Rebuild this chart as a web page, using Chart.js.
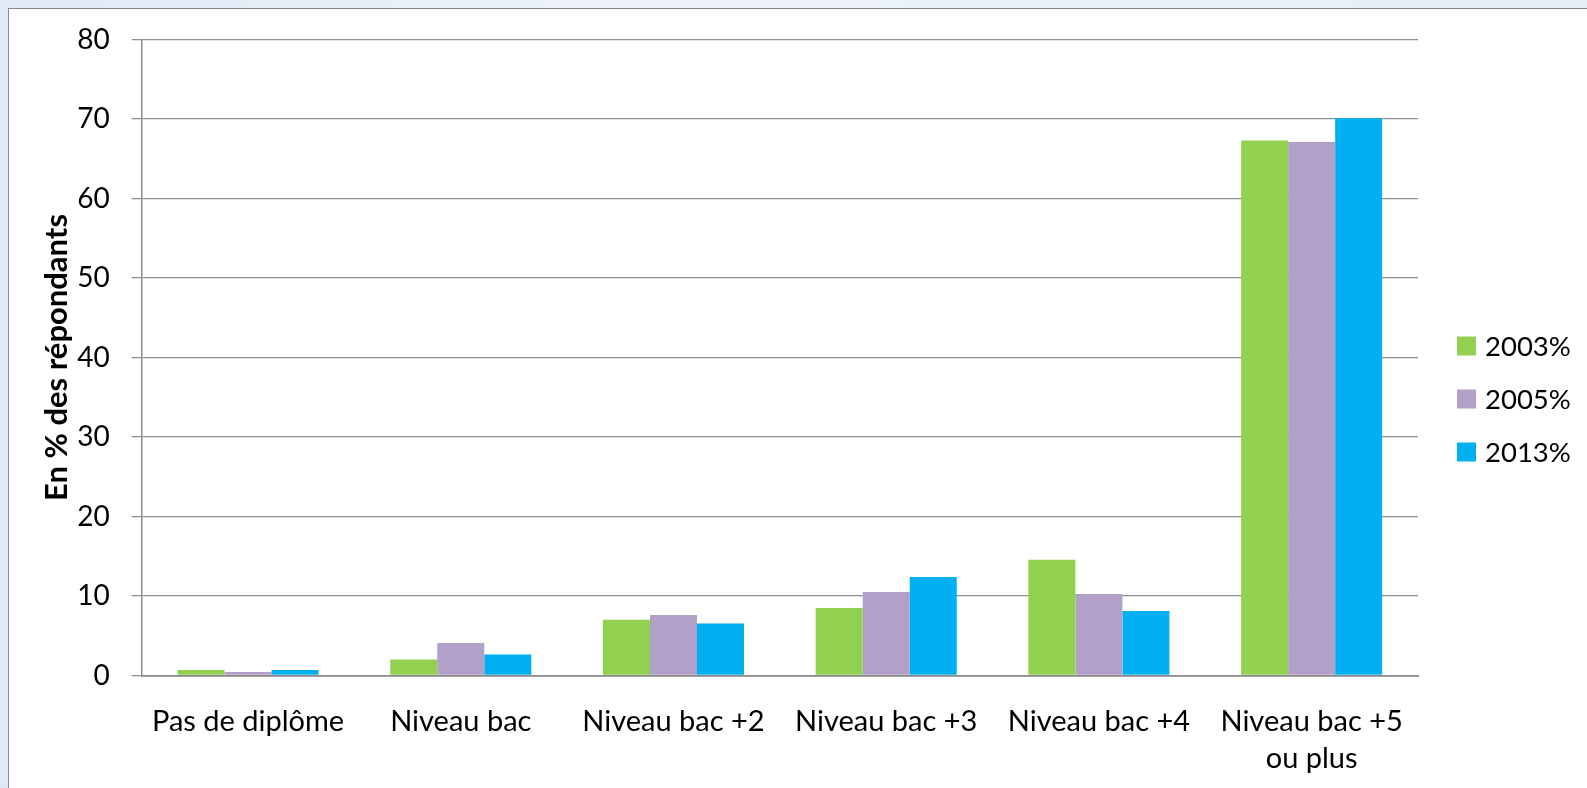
<!DOCTYPE html>
<html>
<head>
<meta charset="utf-8">
<script src="https://cdn.jsdelivr.net/npm/chart.js@4.4.1/dist/chart.umd.min.js"></script>
<style>
  html, body { margin: 0; padding: 0; width: 1587px; height: 788px; overflow: hidden;
    background: linear-gradient(90deg, #dfe9f5 0%, #eef3fa 40%, #e6eef8 100%); }
  #box { position: absolute; left: 8px; top: 8px; width: 1600px; height: 800px;
    background: #ffffff; border: 1.5px solid #8a8a8a; box-sizing: border-box; }
  #wrap { position: absolute; left: 0; top: 0; width: 1587px; height: 788px; }
</style>
</head>
<body>
<div id="box"></div>
<div id="wrap"><canvas id="c" width="1587" height="788"></canvas></div>
<script>
const categories = ['Pas de diplôme', 'Niveau bac', 'Niveau bac +2', 'Niveau bac +3', 'Niveau bac +4', ['Niveau bac +5', 'ou plus']];
const seriesNames = ['2003%', '2005%', '2013%'];
const values2003 = [0.7, 2.0, 7.0, 8.5, 14.55, 67.3];
const values2005 = [0.45, 4.1, 7.6, 10.5, 10.25, 67.1];
const values2013 = [0.7, 2.65, 6.55, 12.4, 8.1, 70.1];
const yTicks = [0, 10, 20, 30, 40, 50, 60, 70, 80];
const yTitle = 'En % des répondants';
const colors = ['#92D050', '#B1A0C7', '#00B0F0'];

const FONT = 'Lato';

const legendPlugin = {
  id: 'customLegend',
  afterDraw(chart) {
    const ctx = chart.ctx;
    ctx.save();
    ctx.font = '27.5px ' + FONT;
    ctx.textBaseline = 'middle';
    ctx.textAlign = 'left';
    chart.data.datasets.forEach((ds, i) => {
      const cy = 346 + i * 53;
      ctx.fillStyle = ds.backgroundColor;
      ctx.fillRect(1457, cy - 9.5, 19, 19);
      ctx.fillStyle = '#000000';
      ctx.fillText(ds.label, 1485, cy + 1);
    });
    ctx.restore();
  }
};

new Chart(document.getElementById('c'), {
  type: 'bar',
  data: {
    labels: categories,
    datasets: [
      { label: seriesNames[0], data: values2003, backgroundColor: colors[0] },
      { label: seriesNames[1], data: values2005, backgroundColor: colors[1] },
      { label: seriesNames[2], data: values2013, backgroundColor: colors[2] }
    ]
  },
  options: {
    responsive: false,
    animation: false,
    devicePixelRatio: 1,
    layout: { padding: { left: 0, top: 39.5, right: 169, bottom: 0 } },
    datasets: { bar: { categoryPercentage: 0.663, barPercentage: 1.0, borderWidth: 0 } },
    plugins: { legend: { display: false }, tooltip: { enabled: false } },
    scales: {
      x: {
        grid: { display: false, drawTicks: false },
        border: { display: true, color: '#8c8c8c', width: 1.8 },
        ticks: { color: '#000', font: { family: FONT, size: 29, lineHeight: 1.276 }, padding: 28, maxRotation: 0, autoSkip: false },
        afterFit(scale) { scale.height = 112.5; }
      },
      y: {
        min: 0, max: 80,
        afterBuildTicks(scale) { scale.ticks = yTicks.map(v => ({ value: v })); },
        grid: { color: '#8f8f8f', lineWidth: 1.3, tickLength: 10, drawTicks: true },
        border: { display: true, color: '#8c8c8c', width: 1.5 },
        ticks: { color: '#000', font: { family: FONT, size: 28 }, padding: 22 },
        title: { display: true, text: yTitle, color: '#000', font: { family: FONT, size: 31, weight: 'bold' }, padding: { top: 38.5, bottom: 0 } },
        afterFit(scale) { scale.width = 141.7; }
      }
    }
  },
  plugins: [legendPlugin]
});
</script>
</body>
</html>
